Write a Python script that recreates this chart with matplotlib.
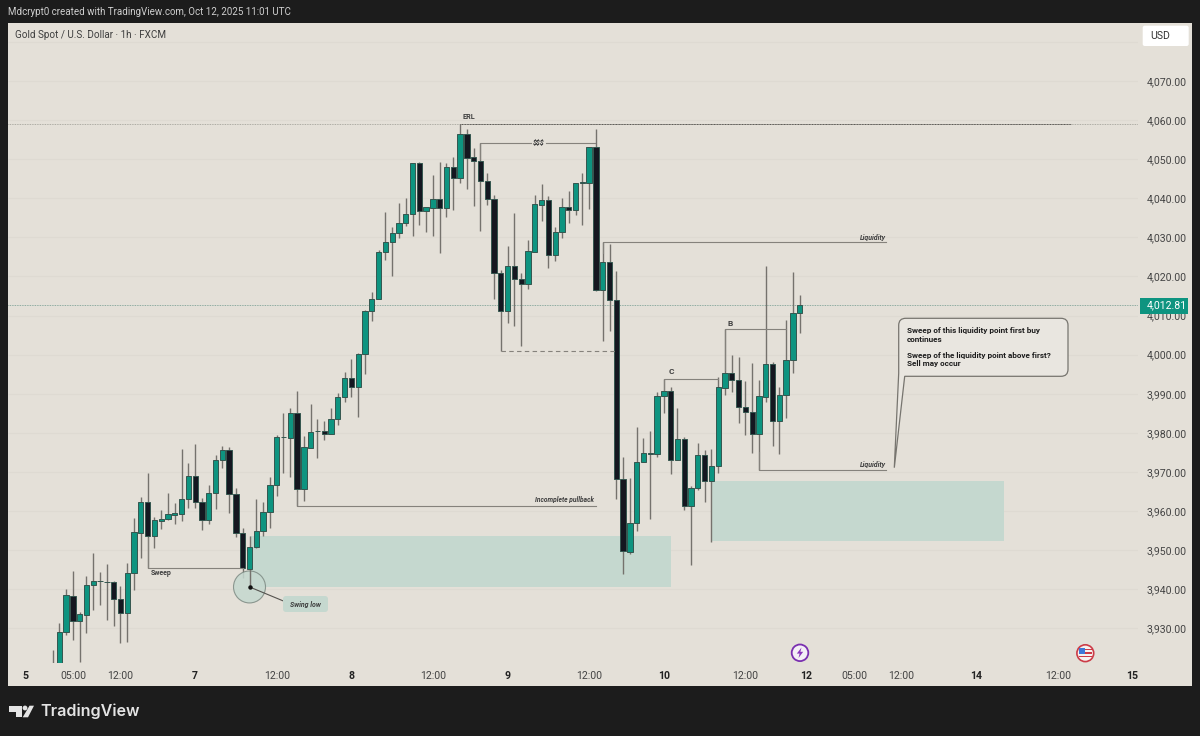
import numpy as np
import matplotlib
matplotlib.use('Agg')
import matplotlib.pyplot as plt
from matplotlib.patches import Rectangle, Ellipse, FancyBboxPatch, PathPatch, Polygon, Circle
from matplotlib.path import Path
from matplotlib.transforms import Affine2D

plt.rcParams['font.family'] = ['Roboto', 'DejaVu Sans']

# hourly candles, first one is almost entirely below the visible range
opens = [3917, 3919, 3929.0, 3938.4, 3932.0, 3933.5, 3941.1, 3942.0, 3941.9, 3941.8,
         3937.6, 3933.9, 3944.1, 3954.5, 3962.2, 3953.7, 3957.5, 3957.9, 3959.1, 3959.3,
         3963.0, 3969.1, 3962.2, 3957.6, 3964.5, 3973.1, 3975.5, 3964.3, 3954.5, 3945.3,
         3950.9, 3954.8, 3959.7, 3966.6, 3979.0, 3978.8, 3985.2, 3965.6, 3976.2, 3980.4,
         3980.6, 3979.7, 3983.5, 3989.2, 3994.0, 3991.8, 4000.3, 4011.3, 4014.3, 4026.3,
         4028.7, 4031.0, 4033.7, 4036.1, 4048.9, 4036.7, 4037.6, 4039.7, 4037.4, 4048.0,
         4045.3, 4056.4, 4050.5, 4049.6, 4044.4, 4039.9, 4021.0, 4011.3, 4022.7, 4019.4,
         4018.2, 4026.3, 4038.4, 4039.5, 4025.5, 4031.3, 4037.8, 4037.0, 4044.1, 4044.0,
         4053.1, 4016.5, 4023.6, 4014.0, 3968.2, 3949.6, 3956.9, 3972.6, 3974.8, 3974.7,
         3989.4, 3990.8, 3973.0, 3978.4, 3961.4, 3965.8, 3974.3, 3967.8, 3971.5, 3991.6,
         3995.4, 3993.4, 3986.7, 3985.3, 3979.7, 3989.3, 3997.5, 3983.0, 3989.6, 3998.7, 4010.7]
closes = [3919, 3929.2, 3938.5, 3932.0, 3933.6, 3941.1, 3942.1, 3942.0, 3941.9, 3937.6,
          3933.9, 3944.1, 3954.6, 3962.2, 3953.7, 3957.6, 3958.0, 3959.2, 3959.4, 3963.0,
          3969.1, 3962.2, 3957.6, 3964.5, 3973.1, 3975.5, 3964.3, 3954.5, 3945.4, 3950.9,
          3954.8, 3959.7, 3966.6, 3979.0, 3979.0, 3985.2, 3965.6, 3976.3, 3980.3, 3980.6,
          3979.7, 3983.5, 3989.3, 3994.0, 3991.8, 4000.3, 4011.3, 4014.3, 4026.3, 4028.7,
          4031.0, 4033.7, 4036.1, 4048.9, 4036.8, 4037.7, 4039.7, 4037.5, 4048.0, 4045.2,
          4056.4, 4050.4, 4049.6, 4044.4, 4039.9, 4021.0, 4011.3, 4022.7, 4019.4, 4018.2,
          4026.5, 4038.5, 4039.5, 4025.5, 4031.4, 4037.8, 4037.0, 4043.8, 4043.8, 4053.2,
          4016.5, 4023.6, 4014.0, 3968.3, 3949.8, 3956.9, 3972.6, 3974.8, 3974.7, 3989.4,
          3990.8, 3973.0, 3978.4, 3961.4, 3965.8, 3974.3, 3967.8, 3971.5, 3991.7, 3995.4,
          3993.4, 3986.7, 3985.3, 3979.7, 3989.4, 3997.5, 3983.0, 3989.7, 3998.7, 4010.7, 4012.81]
highs = [3924.5, 3931.5, 3940.0, 3944.8, 3934.3, 3943.4, 3949.2, 3944.5, 3946.4, 3942.1,
         3940.8, 3946.6, 3958.3, 3963.7, 3969.7, 3958.4, 3960.3, 3964.5, 3962.0, 3975.8,
         3972.2, 3977.2, 3963.3, 3966.7, 3974.3, 3976.6, 3976.5, 3965.8, 3955.8, 3953.6,
         3963.0, 3962.4, 3968.6, 3979.5, 3985.2, 3986.3, 3990.7, 3979.2, 3987.4, 3983.5,
         3983.0, 3986.3, 3990.1, 3995.7, 3998.9, 4000.4, 4011.4, 4016.1, 4026.8, 4036.6,
         4032.7, 4038.7, 4040.0, 4049.1, 4049.2, 4037.7, 4046.0, 4049.2, 4048.9, 4050.5,
         4059.0, 4057.6, 4052.8, 4054.2, 4046.4, 4040.8, 4021.7, 4027.8, 4036.2, 4021.0,
         4029.3, 4040.8, 4043.7, 4040.6, 4032.6, 4040.0, 4041.9, 4043.8, 4046.4, 4053.2,
         4057.7, 4028.8, 4028.3, 4021.3, 3973.9, 3968.4, 3981.6, 3978.6, 3980.4, 3990.5,
         3993.8, 3991.8, 3986.3, 3978.9, 3966.4, 3977.3, 3975.6, 3975.8, 3994.4, 4006.5,
         3999.8, 3999.3, 3993.3, 3997.8, 3993.5, 4022.8, 3998.2, 3991.8, 4008.9, 4021.2, 4015.3]
lows = [3912, 3917, 3928.3, 3927.0, 3921.5, 3928.9, 3934.7, 3936.1, 3932.1, 3930.6,
        3926.2, 3926.6, 3939.8, 3947.9, 3945.5, 3950.5, 3955.4, 3957.7, 3956.7, 3957.5,
        3960.9, 3960.7, 3955.2, 3956.7, 3960.5, 3970.9, 3959.6, 3953.3, 3942.8, 3940.4,
        3950.5, 3953.7, 3955.8, 3963.9, 3969.8, 3968.6, 3961.3, 3962.6, 3976.2, 3973.7,
        3978.2, 3979.7, 3982.0, 3987.9, 3989.1, 3984.0, 3995.1, 4008.5, 4014.3, 4024.2,
        4020.1, 4029.8, 4032.8, 4030.4, 4033.2, 4031.5, 4030.4, 4026.0, 4035.1, 4037.0,
        4044.0, 4042.5, 4038.0, 4031.7, 4038.3, 4014.2, 4001.0, 4008.2, 4007.3, 4002.2,
        4016.8, 4026.3, 4034.2, 4022.1, 4024.0, 4029.8, 4033.8, 4035.6, 4033.2, 4037.2,
        4016.3, 4003.5, 4006.1, 3963.1, 3943.9, 3949.0, 3954.9, 3972.6, 3957.9, 3973.9,
        3985.0, 3969.5, 3973.0, 3960.3, 3946.2, 3965.4, 3962.2, 3952.2, 3969.7, 3989.7,
        3990.5, 3982.6, 3979.5, 3974.8, 3970.5, 3988.0, 3976.6, 3974.5, 3983.7, 3995.4, 4005.5]
candle_index = np.arange(-1, len(opens) - 1)

price_ticks = np.arange(3930, 4080, 10)
price_labels = ['%s.00' % format(p, ',d') for p in price_ticks]
last_price = 4012.81

time_ticks = [-5, 2, 9, 20, 32, 43, 55, 66, 78, 89, 101, 110, 117, 124, 135, 147, 158]
time_labels = ['5', '05:00', '12:00', '7', '12:00', '8', '12:00', '9', '12:00', '10',
               '12:00', '12', '05:00', '12:00', '14', '12:00', '15']

W, H = 1200, 736
BG = '#e4e0d8'
DARK = '#1c1c1c'
GREEN = '#0e9480'
BLACK = '#141720'
WICK = '#75726d'
LINE = '#85827c'
ZONE = '#c5d8cf'
TXT = '#3f3f3f'

fig = plt.figure(figsize=(12, 7.36), dpi=100, facecolor=DARK)
px = Affine2D().scale(1, -1).translate(0, H)   # screen style pixels, for the chrome


def ftext(x, y, s, **kw):
    kw.setdefault('va', 'center')
    kw.setdefault('ha', 'left')
    fig.text(x / W, 1 - y / H, s, **kw)


fig.add_artist(Rectangle((8.3, 23), 1183.7, 663, transform=px, fc=BG, ec='none', zorder=-5))

ax = fig.add_axes([8.3 / W, (H - 663) / H, (1138 - 8.3) / W, 640 / H])
ax.set_facecolor('none')
ax.set_xlim(-7.51, 158.8)
ax.set_ylim(3921.15, 4084.83)
for s in ax.spines.values():
    s.set_visible(False)

ax.hlines(list(price_ticks) + [4080], -7.51, 158.8, color='#dedad2', lw=0.8, zorder=0)
ax.yaxis.tick_right()
ax.set_yticks(price_ticks)
ax.set_yticklabels(price_labels, fontsize=7.6, color='#444444')
ax.tick_params(axis='y', length=0, pad=6.5)
ax.set_xticks(time_ticks)
ax.set_xticklabels(time_labels, fontsize=7.6, color='#444444')
ax.tick_params(axis='x', length=0, pad=5.5)
for t, lab in zip(ax.get_xticklabels(), time_labels):
    if ':' not in lab:
        t.set_fontweight('bold')
        t.set_color('#222222')

# zones
ax.add_patch(Rectangle((28, 3940.7), 62, 12.9, fc=ZONE, ec='none', zorder=1))
ax.add_patch(Rectangle((96, 3952.4), 43, 15.3, fc=ZONE, ec='none', zorder=1))

# candles
opens = np.array(opens)
closes = np.array(closes)
up = closes >= opens
colors = np.where(up, GREEN, BLACK)
ax.vlines(candle_index, lows, highs, color=WICK, lw=1.0, zorder=2)
ax.bar(candle_index, closes - opens, bottom=opens, width=0.78, color=colors,
       edgecolor='#34564f', linewidth=0.7, zorder=3)

# drawn levels
ax.hlines(4059.0, -7.51, 158.8, color='#9a9a92', lw=0.6, ls=(0, (1, 1)), zorder=1)
ax.hlines(last_price, -7.51, 158.8, color='#6f9a8e', lw=0.6, ls=(0, (1, 1)), zorder=1)
ax.hlines(4059.0, 59, 149, color='#55534f', lw=0.7, ls=(0, (1, 0.6)), zorder=4)
ax.text(59.4, 4060.8, 'ERL', fontsize=5.2, fontweight='bold', color=TXT, va='center')

ax.plot([62, 62, 69.5], [4050, 4054.2, 4054.2], color=LINE, lw=0.8, zorder=4)
ax.plot([71.6, 78.8], [4054.2, 4054.2], color=LINE, lw=0.8, zorder=4)
ax.text(70.5, 4054.2, '$$$', fontsize=5, fontweight='bold', style='italic', color=TXT,
        ha='center', va='center')
ax.plot([80, 80, 121.7], [4026, 4028.8, 4028.8], color=LINE, lw=0.8, zorder=4)
ax.text(121.7, 4030.0, 'Liquidity', fontsize=5, fontweight='bold', style='italic', color=TXT, ha='right', va='center')
ax.plot([65, 82], [4001, 4001], color=LINE, lw=0.8, ls=(0, (4, 3)), zorder=4)
ax.plot([35, 35, 79], [3965, 3961.4, 3961.4], color=LINE, lw=0.8, zorder=4)
ax.text(78.7, 3963, 'Incomplete pullback', fontsize=4.8, fontweight='bold', style='italic', color=TXT,
        ha='right', va='center')
ax.plot([13, 13, 27], [3953, 3945.5, 3945.5], color=LINE, lw=0.8, zorder=4)
ax.text(13.4, 3944.1, 'Sweep', fontsize=5, fontweight='bold', color=TXT, va='center')
ax.plot([89, 89, 97], [3991, 3993.8, 3993.8], color=LINE, lw=0.8, zorder=4)
ax.text(89.7, 3995.6, 'C', fontsize=6, fontweight='bold', color=TXT, va='center')
ax.plot([98, 98, 107], [3996, 4006.5, 4006.5], color=LINE, lw=0.8, zorder=4)
ax.text(98.3, 4008, 'B', fontsize=6, fontweight='bold', color=TXT, va='center')
ax.plot([103, 103, 121.7], [3975, 3970.5, 3970.5], color=LINE, lw=0.8, zorder=4)
ax.text(121.7, 3972, 'Liquidity', fontsize=5, fontweight='bold', style='italic', color=TXT, ha='right', va='center')

# swing low marker
ax.add_patch(Ellipse((28, 3940.6), 4.71, 8.18, fc=ZONE, ec='#7d8a83', lw=0.8, zorder=4, alpha=0.85))
ax.plot([28], [3940.6], 'o', ms=2.2, color='#111111', zorder=6)
ax.vlines(28, 3940.6, 3945, color=WICK, lw=1.0, zorder=5)
ax.plot([28, 33], [3940.6, 3937], color='#55534f', lw=0.8, zorder=5)
fig.add_artist(FancyBboxPatch((286, 599), 39, 10, boxstyle='round,pad=3,rounding_size=3', transform=px,
                              fc=ZONE, ec='none'))
ftext(305.5, 604, 'Swing low', fontsize=5, fontweight='bold', style='italic', color=TXT, ha='center')

# callout box, rounded corners and pointer down to the liquidity line
l, r, t, b, c = 898.7, 1068, 318.3, 376.3, 7
verts = [(l + c, t), (r - c, t), (r, t), (r, t + c), (r, b - c), (r, b), (r - c, b), (904.7, b), (894.3, 467.7),
         (l, b - 3), (l, t + c), (l, t), (l + c, t), (l + c, t)]
codes = [Path.MOVETO, Path.LINETO, Path.CURVE3, Path.CURVE3, Path.LINETO, Path.CURVE3, Path.CURVE3, Path.LINETO,
         Path.LINETO, Path.LINETO, Path.LINETO, Path.CURVE3, Path.CURVE3, Path.CLOSEPOLY]
fig.add_artist(PathPatch(Path(verts, codes), transform=px, fc='#e9e6e0', ec='#77756f', lw=0.9))
for y, s in [(331, 'Sweep of this liquidity point first buy'), (339, 'continues'),
             (355.5, 'Sweep of the liquidity point above first?'), (363.5, 'Sell may occur')]:
    ftext(906.7, y, s, fontsize=5.9, fontweight='bold', color='#1e1e1e')

# header and footer
ftext(8, 12, 'Mdcrypt0 created with TradingView.com, Oct 12, 2025 11:01 UTC', fontsize=7.05, color='#cfcfcf')
ftext(15, 34.5, 'Gold Spot / U.S. Dollar · 1h · FXCM', fontsize=7.15, color='#3d3d3d')
fig.add_artist(FancyBboxPatch((1144.7, 27.7), 42, 16.3, boxstyle='round,pad=2,rounding_size=2', transform=px,
                              fc='white', ec='none'))
ftext(1150, 36, 'USD', fontsize=7.6, color='#333333')
fig.add_artist(Rectangle((1140, 298), 48, 15.5, transform=px, fc=GREEN, ec='none'))
ftext(1147, 305.5, format(last_price, ',.2f'), fontsize=7.6, color='white')

# TradingView logo
logo = '#e4e4e4'
fig.add_artist(Polygon([(9.3, 705.7), (22, 705.7), (22, 717.3), (16, 717.3), (16, 711.5), (9.3, 711.5)],
                       transform=px, fc=logo, ec='none'))
fig.add_artist(Circle((25, 708), 2.4, transform=px, fc=logo, ec='none'))
fig.add_artist(Polygon([(29.5, 705.7), (34, 705.7), (28, 717.3), (22.7, 717.3)], transform=px, fc=logo, ec='none'))
ftext(40.5, 711.5, 'TradingView', fontsize=11.6, fontweight='semibold', color=logo, family=['Inter', 'DejaVu Sans'])

# event icons on the time axis
fig.add_artist(Circle((800, 652.8), 8.3, transform=px, fc='#f4eff6', ec='#7a2fb0', lw=1.3))
fig.add_artist(Polygon([(801.5, 647.5), (796.8, 653.6), (799.6, 653.6), (798.5, 658), (803.2, 651.8), (800.4, 651.8)],
                       transform=px, fc='#8a35bd', ec='none'))
fig.add_artist(Circle((1085.3, 653.2), 8.4, transform=px, fc='#f6f1ee', ec='#cc3b47', lw=1.2))
fig.add_artist(Rectangle((1079, 648), 5.5, 5.5, transform=px, fc='#3d78d8', ec='none'))
for y in [649.5, 653, 656.5]:
    fig.add_artist(Rectangle((1084.5 if y < 655 else 1079, y - 0.7), 7 if y < 655 else 12.5, 1.4, transform=px,
                             fc='#cc3b47', ec='none'))

fig.savefig('out.png', dpi=100, facecolor=DARK)
